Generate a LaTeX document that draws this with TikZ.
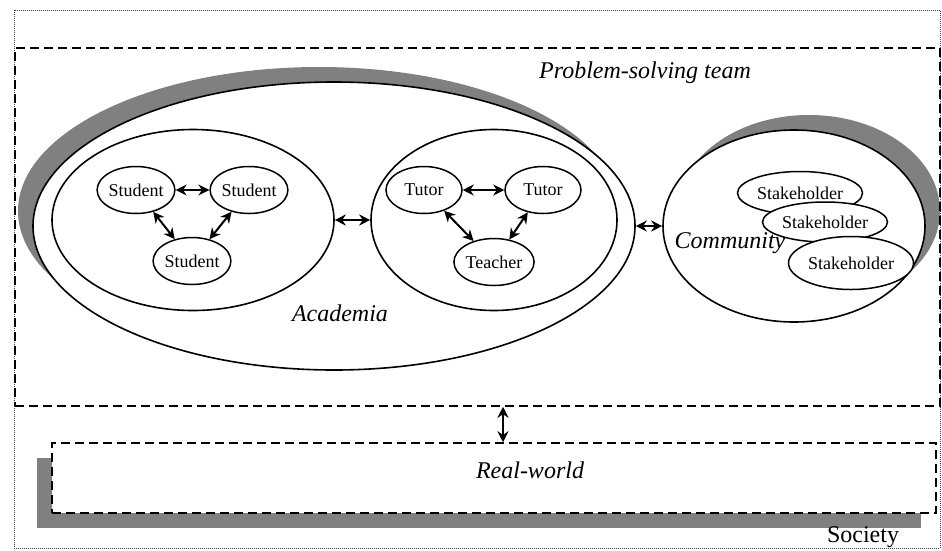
\documentclass[tikz,border=0pt]{standalone}
\usepackage{fontspec}
\setmainfont{Liberation Serif}
\usetikzlibrary{shapes.geometric, arrows.meta, calc}

\begin{document}
\begin{tikzpicture}[x=1pt, y=-1pt,
        party/.style = {draw, ellipse, fill=white, line width=1.5pt, inner sep=0pt, minimum width=76pt, minimum height=47pt, font=\fontsize{18}{20}\selectfont},
        realm/.style = {draw, ellipse, fill=white, line width=1.6pt, inner sep=0pt},
        tag/.style = {font=\fontsize{24}{28}\selectfont\itshape},
        link/.style = {{Stealth[length=11pt,width=11pt]}-{Stealth[length=11pt,width=11pt]}, line width=2pt},
        frame/.style = {draw, dash pattern=on 9pt off 5pt, line width=1.5pt}]
        \useasboundingbox (0,0) rectangle (942,550);
        \draw[black!75, line width=0.8pt, dash pattern=on 1pt off 1pt] (14,10) rectangle (940,548);
        % academia with its shadow
        \fill[gray] (319,211) ellipse [x radius=301, y radius=144];
        \node[realm, minimum width=602pt, minimum height=288pt] (academia) at (334,226) {};
        \node[realm, minimum width=282pt, minimum height=181pt] (students) at (193,220) {};
        \node[realm, minimum width=246pt, minimum height=181pt] (tutors) at (494,220) {};
        % community with its shadow
        \fill[gray] (809,211) ellipse [x radius=131, y radius=96];
        \node[realm, minimum width=262pt, minimum height=192pt] (community) at (794,226) {};
        \node[party] (s1) at (136,190) {Student};
        \node[party] (s2) at (249,190) {Student};
        \node[party] (s3) at (192,261) {Student};
        \node[party] (t1) at (424,190) {Tutor};
        \node[party] (t2) at (543,190) {Tutor};
        \node[party] (teacher) at (494,262) {Teacher};
        \node[party, minimum width=125pt, minimum height=43pt] (k1) at (800,193) {Stakeholder};
        \node[party, minimum width=125pt, minimum height=40pt] (k2) at (825,222) {Stakeholder};
        \node[party, minimum width=125pt, minimum height=53pt] (k3) at (851,263) {Stakeholder};
        \node[tag] (teamlabel) at (645,73) {Problem-solving team};
        \node[tag] (academialabel) at (340,313) {Academia};
        \node[tag] (communitylabel) at (730,243) {Community};
        \node[frame, minimum width=925pt, minimum height=358pt] (team) at (477.5,227) {};
        % real world
        \fill[gray] (37,458) rectangle (921,528);
        \node[frame, fill=white, minimum width=884pt, minimum height=70pt] (realworld) at (494,478) {};
        \node[tag] (realworldlabel) at (530,470) {Real-world};
        \node[font=\fontsize{24}{28}\selectfont] (society) at (863,537) {Society};
        \coordinate (updown) at (503,0);
        \draw[link] (s1) -- (s2);
        \draw[link] (s1) -- (s3);
        \draw[link] (s2) -- (s3);
        \draw[link] (t1) -- (t2);
        \draw[link] (t1) -- (teacher);
        \draw[link] (t2) -- (teacher);
        \draw[link] (students) -- (tutors);
        \draw[link] (academia) -- (community);
        \draw[link] (team.south -| updown) -- (realworld.north -| updown);
\end{tikzpicture}
\end{document}
